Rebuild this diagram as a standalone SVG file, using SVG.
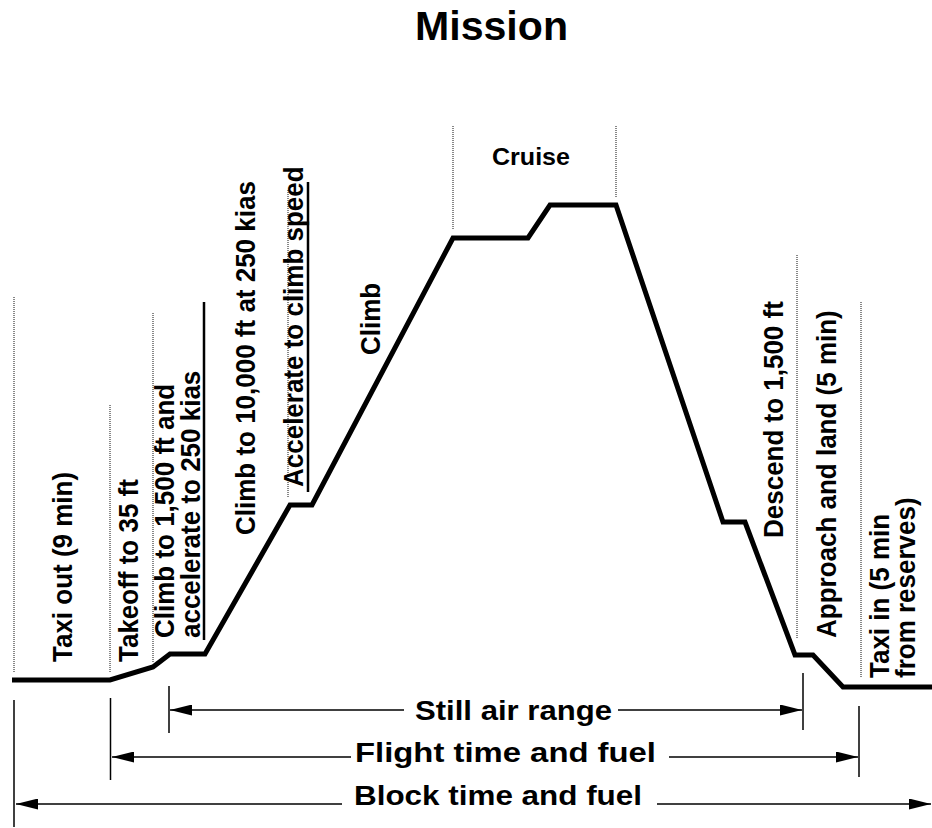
<svg xmlns="http://www.w3.org/2000/svg" width="932" height="828" viewBox="0 0 932 828">
  <defs>
    <marker id="ah" markerUnits="userSpaceOnUse" markerWidth="22" markerHeight="11" refX="22" refY="5.5" orient="auto">
      <path d="M0,0 L22,5.5 L0,11 z" fill="#000"/>
    </marker>
    <style>
      .t { font-family: "Liberation Sans", Arial, sans-serif; font-weight: bold; fill: #000; }
      .r { font-size: 26px; }
      .dot { stroke: #111; stroke-width: 1; stroke-dasharray: 1 1; fill: none; }
      .tick { stroke: #000; stroke-width: 1.5; fill: none; }
      .ul { stroke: #000; stroke-width: 2.5; fill: none; }
      .arr { stroke: #000; stroke-width: 1.5; fill: none; marker-end: url(#ah); }
    </style>
  </defs>
  <rect width="932" height="828" fill="#fff"/>

  <g id="title">
    <text class="t" x="415" y="40" font-size="40" textLength="153" lengthAdjust="spacingAndGlyphs">Mission</text>
  </g>

  <g id="guides">
    <line class="dot" x1="14" y1="297" x2="14" y2="672"/>
    <line class="dot" x1="110" y1="405" x2="110" y2="673"/>
    <line class="dot" x1="153" y1="313" x2="153" y2="662"/>
    <line class="dot" x1="288" y1="190" x2="288" y2="497"/>
    <line class="dot" x1="453" y1="126" x2="453" y2="230"/>
    <line class="dot" x1="616" y1="126" x2="616" y2="197"/>
    <line class="dot" x1="797" y1="255" x2="797" y2="638"/>
    <line class="dot" x1="861" y1="302" x2="861" y2="677"/>
    <line class="ul" x1="204" y1="302" x2="204" y2="640"/>
    <line class="ul" x1="308" y1="182" x2="308" y2="492"/>
  </g>

  <g id="profile">
    <polyline points="12,680 110,680 153,667 170,654 205,654 290,505 312,505 453,238 528,238 550,205 616,205 723,522 745,522 795,655 813,655 843,687 932,687" fill="none" stroke="#000" stroke-width="5" stroke-linejoin="miter"/>
  </g>

  <g id="taxi-out"><text class="t r" transform="translate(72,662) scale(1.08,1) rotate(-90)">Taxi out (9 min)</text></g>
  <g id="takeoff"><text class="t r" transform="translate(138,662) scale(1.08,1) rotate(-90)">Takeoff to 35 ft</text></g>
  <g id="climb-1500">
    <text class="t r" transform="translate(174,638) scale(1.08,1) rotate(-90)">Climb to 1,500 ft and</text>
    <text class="t r" transform="translate(200,638) scale(1.08,1) rotate(-90)">accelerate to 250 kias</text>
  </g>
  <g id="climb-10000"><text class="t r" transform="translate(255,535) scale(1.08,1) rotate(-90)">Climb to 10,000 ft at 250 kias</text></g>
  <g id="accelerate"><text class="t r" transform="translate(303,487) scale(1.08,1) rotate(-90)">Accelerate to climb speed</text></g>
  <g id="climb"><text class="t r" transform="translate(380,355) scale(1.08,1) rotate(-90)">Climb</text></g>
  <g id="cruise"><text class="t" x="492" y="165" font-size="24" textLength="78" lengthAdjust="spacingAndGlyphs">Cruise</text></g>
  <g id="descend"><text class="t r" transform="translate(783,538) scale(1.08,1) rotate(-90)">Descend to 1,500 ft</text></g>
  <g id="approach"><text class="t r" transform="translate(836,638) scale(1.08,1) rotate(-90)">Approach and land (5 min)</text></g>
  <g id="taxi-in">
    <text class="t r" transform="translate(889,678) scale(1.08,1) rotate(-90)">Taxi in (5 min</text>
    <text class="t r" transform="translate(915,678) scale(1.08,1) rotate(-90)">from reserves)</text>
  </g>

  <g id="connectors">
    <line class="tick" x1="14" y1="700" x2="14" y2="827"/>
    <line class="tick" x1="110.5" y1="698" x2="110.5" y2="780"/>
    <line class="tick" x1="169" y1="686" x2="169" y2="733"/>
    <line class="tick" x1="803" y1="673" x2="803" y2="730"/>
    <line class="tick" x1="859" y1="706" x2="859" y2="777"/>
    <line class="arr" x1="404" y1="710" x2="170" y2="710"/>
    <line class="arr" x1="618" y1="710" x2="802" y2="710"/>
    <line class="arr" x1="351" y1="757" x2="112" y2="757"/>
    <line class="arr" x1="669" y1="757" x2="858" y2="757"/>
    <line class="arr" x1="342" y1="804" x2="16" y2="804"/>
    <line class="arr" x1="657" y1="804" x2="931" y2="804"/>
  </g>

  <g id="still-air-range"><text class="t" x="415" y="720" font-size="27" textLength="197" lengthAdjust="spacingAndGlyphs">Still air range</text></g>
  <g id="flight-time"><text class="t" x="355" y="762" font-size="27" textLength="301" lengthAdjust="spacingAndGlyphs">Flight time and fuel</text></g>
  <g id="block-time"><text class="t" x="354" y="805" font-size="27" textLength="288" lengthAdjust="spacingAndGlyphs">Block time and fuel</text></g>
</svg>
